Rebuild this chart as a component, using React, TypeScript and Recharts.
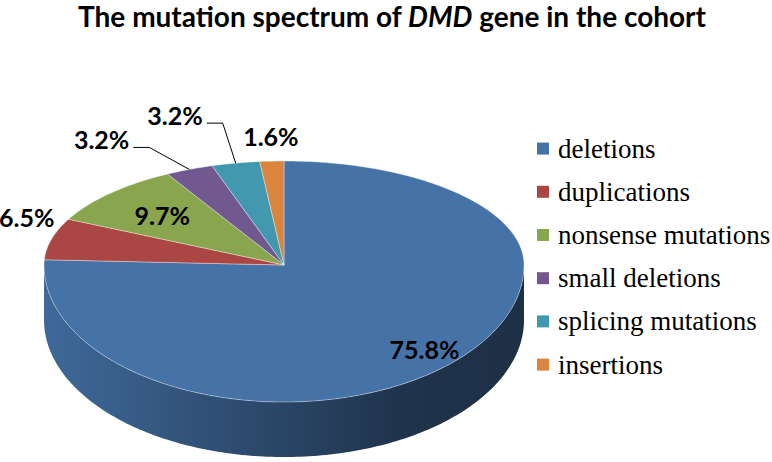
import React from "react";
import { PieChart, Pie, Cell, Legend } from "recharts";

// mutation categories in the cohort (n = 62)
const categories = [
  "deletions",
  "duplications",
  "nonsense mutations",
  "small deletions",
  "splicing mutations",
  "insertions",
];
const counts = [47, 4, 6, 2, 2, 1];
const percentLabels = ["75.8%", "6.5%", "9.7%", "3.2%", "3.2%", "1.6%"];
const colors = ["#4572A7", "#AA4643", "#89A54E", "#71588F", "#4198AF", "#DB843D"];

const data = categories.map((name, i) => ({ name, value: counts[i] }));

const W = 772;
const H = 462;
const CX = 284;
const CY = 265;
const RX = 240;
// fake perspective: back half flatter than front half
const TOP_RATIO = 104 / 240;
const BOT_RATIO = 137 / 240;
const DEPTH = 55;
const RAD = Math.PI / 180;

const labelFont = "Lato, 'Open Sans', sans-serif";
const legendFont = "'Liberation Serif', 'Times New Roman', serif";

// where each percent label goes, relative to the slice
const labelPlacement = [
  { r: 0.85, dx: 0, dy: 0, anchor: "middle", leader: false },
  { r: 1, dx: -25, dy: -22, anchor: "middle", leader: false },
  { r: 0.7, dx: 0, dy: 0, anchor: "middle", leader: false },
  { r: 1, dx: -60, dy: -30, anchor: "end", leader: true },
  { r: 1, dx: -33, dy: -48, anchor: "end", leader: true },
  { r: 1, dx: -1, dy: -25, anchor: "middle", leader: false },
];

function ep(cx: number, cy: number, r: number, deg: number, dy = 0) {
  const s = Math.sin(deg * RAD);
  const ry = s > 0 ? r * TOP_RATIO : r * BOT_RATIO;
  return [cx + r * Math.cos(deg * RAD), cy - ry * s + dy];
}

function arc(cx: number, cy: number, r: number, a0: number, a1: number, dy = 0) {
  const n = Math.max(2, Math.ceil(Math.abs(a1 - a0)));
  const pts: string[] = [];
  for (let i = 0; i <= n; i++) {
    const [x, y] = ep(cx, cy, r, a0 + ((a1 - a0) * i) / n, dy);
    pts.push(`${x.toFixed(2)},${y.toFixed(2)}`);
  }
  return pts;
}

function shade(hex: string, k: number) {
  const n = parseInt(hex.slice(1), 16);
  const c = [(n >> 16) & 255, (n >> 8) & 255, n & 255].map((v) => Math.round(v * k));
  return `rgb(${c[0]},${c[1]},${c[2]})`;
}

function SliceShape(props: any) {
  const { cx, cy, outerRadius, startAngle, endAngle, fill } = props;
  const lo = Math.min(startAngle, endAngle);
  const hi = Math.max(startAngle, endAngle);
  const gid = `side-${String(fill).replace("#", "")}`;
  const sides: React.ReactNode[] = [];
  for (let k = -2; k <= 1; k++) {
    const a = Math.max(lo, k * 360 + 180);
    const b = Math.min(hi, k * 360 + 360);
    if (b > a) {
      const top = arc(cx, cy, outerRadius, a, b);
      const bottom = arc(cx, cy, outerRadius, b, a, DEPTH);
      sides.push(
        <polygon key={k} points={[...top, ...bottom].join(" ")} fill={`url(#${gid})`} />
      );
    }
  }
  const face = [`${cx},${cy}`, ...arc(cx, cy, outerRadius, startAngle, endAngle)].join(" ");
  return (
    <g>
      <defs>
        <linearGradient id={gid} x1="0" y1="0" x2="1" y2="0">
          <stop offset="0%" stopColor={shade(fill, 0.92)} />
          <stop offset="35%" stopColor={shade(fill, 0.7)} />
          <stop offset="75%" stopColor={shade(fill, 0.45)} />
          <stop offset="100%" stopColor={shade(fill, 0.42)} />
        </linearGradient>
      </defs>
      {sides}
      <polygon points={face} fill={fill} stroke="#ffffff" strokeWidth={0.8} strokeOpacity={0.45} />
    </g>
  );
}

function renderLabel(props: any) {
  const { cx, cy, outerRadius, midAngle, index } = props;
  const p = labelPlacement[index];
  const [ex, ey] = ep(cx, cy, outerRadius * p.r, midAngle);
  const x = ex + p.dx;
  const y = ey + p.dy;
  return (
    <g key={`lab-${index}`}>
      {p.leader && (
        <polyline
          points={`${ex},${ey} ${x + 20},${y + 8} ${x + 4},${y + 8}`}
          fill="none"
          stroke="#000"
          strokeWidth={1}
        />
      )}
      <text
        x={x}
        y={y}
        textAnchor={p.anchor}
        dominantBaseline="central"
        fontFamily={labelFont}
        fontWeight={700}
        fontSize={25}
        fill="#000"
      >
        {percentLabels[index]}
      </text>
    </g>
  );
}

function LegendList(props: any) {
  const items = [...(props.payload || [])].sort(
    (a: any, b: any) => categories.indexOf(a.value) - categories.indexOf(b.value)
  );
  return (
    <svg width={235} height={items.length * 43.2} style={{ display: "block" }}>
      {items.map((item: any, i: number) => {
        const yc = 21.6 + i * 43.2;
        return (
          <g key={i}>
            <rect x={0} y={yc - 6} width={12} height={12} fill={item.color} />
            <text
              x={21}
              y={yc}
              dominantBaseline="central"
              fontFamily={legendFont}
              fontSize={27}
              fill="#000"
            >
              {item.value}
            </text>
          </g>
        );
      })}
    </svg>
  );
}

export default function App() {
  return (
    <div
      style={{
        position: "absolute",
        left: 0,
        top: 0,
        width: W,
        height: H,
        background: "#fff",
        overflow: "hidden",
      }}
    >
      <div
        style={{
          position: "absolute",
          left: 6,
          top: -2,
          width: W,
          textAlign: "center",
          fontFamily: labelFont,
          fontWeight: 700,
          fontSize: 28,
          lineHeight: "36px",
          color: "#000",
          zIndex: 2,
        }}
      >
        The mutation spectrum of <i>DMD</i> gene in the cohort
      </div>
      <PieChart width={W} height={H} margin={{ top: 0, right: 0, bottom: 0, left: 0 }}>
        <Pie
          data={data}
          dataKey="value"
          nameKey="name"
          cx={CX}
          cy={CY}
          outerRadius={RX}
          startAngle={90}
          endAngle={-270}
          stroke="none"
          shape={SliceShape}
          activeShape={SliceShape}
          inactiveShape={SliceShape}
          label={renderLabel}
          labelLine={false}
          isAnimationActive={false}
        >
          {data.map((d, i) => (
            <Cell key={d.name} fill={colors[i]} />
          ))}
        </Pie>
        <Legend
          layout="vertical"
          itemSorter={null as any}
          content={LegendList}
          wrapperStyle={{ position: "absolute", left: 537, top: 127, width: 235 }}
        />
      </PieChart>
    </div>
  );
}
